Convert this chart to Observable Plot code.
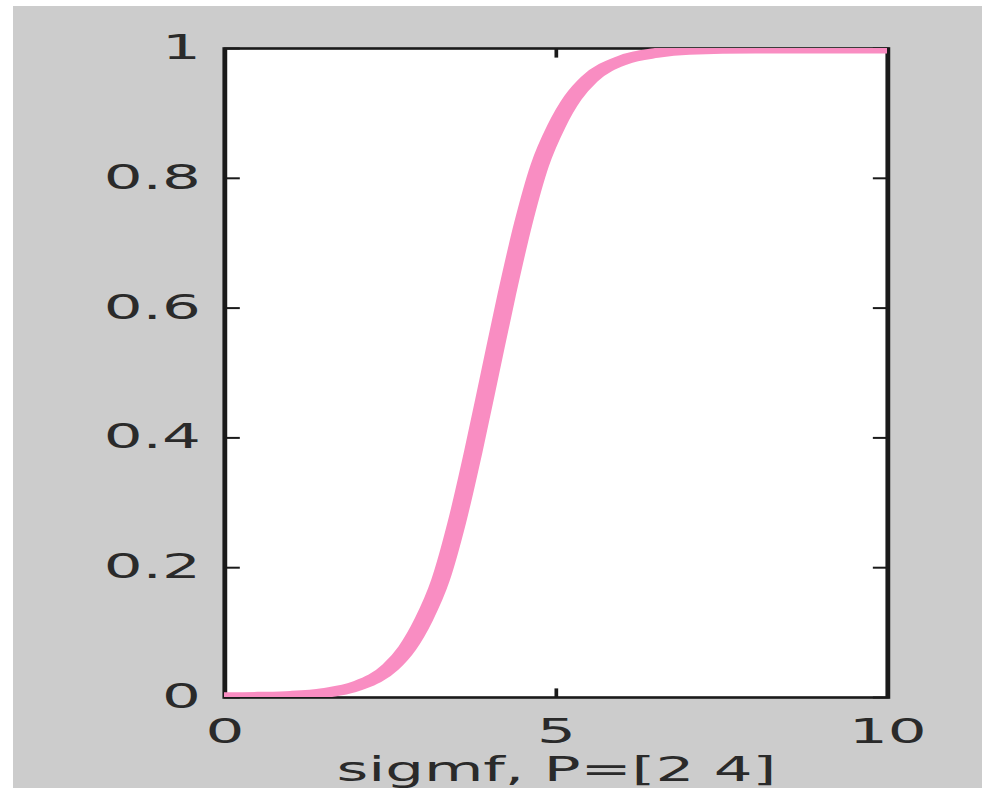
<!DOCTYPE html>
<html>
<head>
<meta charset="utf-8">
<script src="https://cdn.jsdelivr.net/npm/d3@7"></script>
<script src="https://cdn.jsdelivr.net/npm/@observablehq/plot@0.6"></script>
<style>
  html, body { margin: 0; padding: 0; background: #ffffff; }
  #chart { position: absolute; left: 13px; top: 6px; width: 969px; height: 782px; background: #cccccc; overflow: hidden; }
</style>
</head>
<body>
<div id="chart"></div>
<script>
// Values
const xs = [0, 0.5, 1, 1.5, 2, 2.5, 2.75, 3, 3.25, 3.5, 3.75, 4, 4.25, 4.5, 4.75, 5, 5.25, 5.5, 6, 6.5, 7, 8, 9, 10];
const ys = [0.0003, 0.001, 0.0025, 0.007, 0.018, 0.047, 0.076, 0.12, 0.18, 0.27, 0.38, 0.5, 0.62, 0.73, 0.82, 0.88, 0.924, 0.953, 0.982, 0.993, 0.998, 1, 1, 1];
const xTicks = [0, 5, 10];
const xTickLabels = ["0", "5", "10"];
const yTicks = [0, 0.2, 0.4, 0.6, 0.8, 1];
const yTickLabels = ["0", "0.2", "0.4", "0.6", "0.8", "1"];
const xLabel = "sigmf, P=[2 4]";

const data = xs.map((x, i) => ({x, y: ys[i]}));

const S = 1.85;            // horizontal stretch of the reference image
const outW = 969, outH = 782;
const W = outW / S;

const font = "DejaVu Sans, Verdana, sans-serif";
const tick = -8.6;
const none = () => "";

const plot = Plot.plot({
  width: W,
  height: outH,
  marginLeft: 114,
  marginRight: 51.4,
  marginTop: 42,
  marginBottom: 91,
  style: {background: "transparent", fontFamily: font, fontSize: "33px", color: "#2a2a2a", overflow: "visible"},
  x: {domain: [0, 10]},
  y: {domain: [0, 1]},
  marks: [
    Plot.frame({fill: "white", stroke: "none"}),
    Plot.axisY({anchor: "left", ticks: yTicks, tickFormat: (d) => yTickLabels[yTicks.indexOf(d)], tickSize: tick, tickPadding: 13 - tick, strokeWidth: 2, stroke: "#1a1a1a", label: null, fill: "#2a2a2a"}),
    Plot.axisY({anchor: "right", ticks: yTicks, tickFormat: none, tickSize: tick, strokeWidth: 2, stroke: "#1a1a1a", label: null}),
    Plot.axisX({anchor: "bottom", ticks: xTicks, tickFormat: (d) => xTickLabels[xTicks.indexOf(d)], tickSize: tick, tickPadding: 22 - tick, strokeWidth: 2, stroke: "#1a1a1a", label: xLabel, labelAnchor: "center", labelArrow: "none", labelOffset: 83, fill: "#2a2a2a"}),
    Plot.axisX({anchor: "top", ticks: xTicks, tickFormat: none, tickSize: tick, strokeWidth: 2, stroke: "#1a1a1a", label: null}),
    Plot.frame({stroke: "#1a1a1a", strokeWidth: 2.6}),
    Plot.line(data, {x: "x", y: "y", stroke: "#f98dc2", strokeWidth: 10, curve: "monotone-x", clip: true})
  ]
});

plot.setAttribute("width", outW);
plot.setAttribute("height", outH);
plot.setAttribute("preserveAspectRatio", "none");
plot.style.width = outW + "px";
plot.style.height = outH + "px";
plot.style.maxWidth = "none";
document.getElementById("chart").appendChild(plot);
</script>
</body>
</html>
